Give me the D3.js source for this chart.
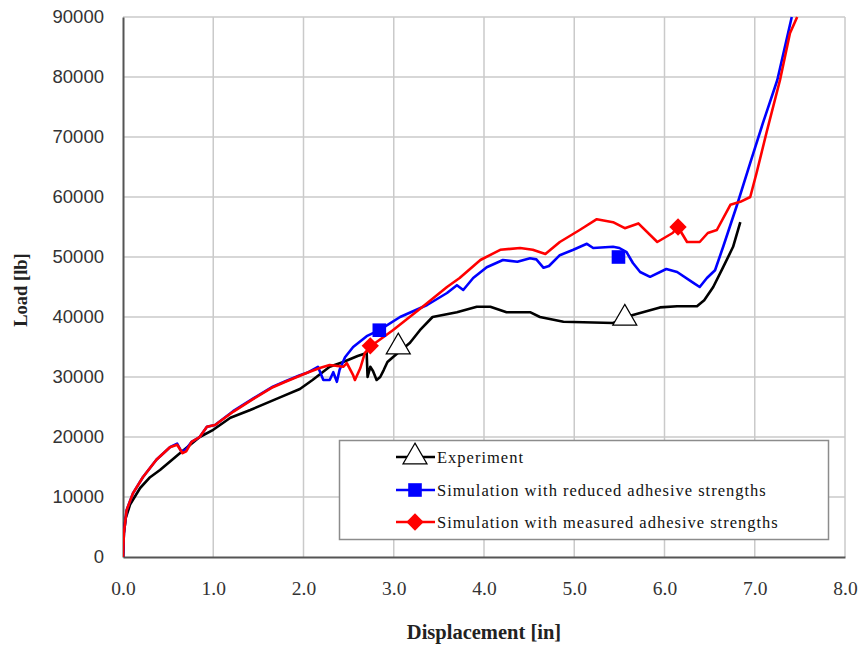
<!DOCTYPE html>
<html>
<head>
<meta charset="utf-8">
<script src="https://cdn.jsdelivr.net/npm/d3@7"></script>
<style>
  html, body { margin: 0; padding: 0; background: #fff; }
  svg { display: block; }
</style>
</head>
<body>
<svg id="chart" width="861" height="645"></svg>
<script>
// Load–displacement curves: test vs. two simulations
const expX = [0, 0.01, 0.03, 0.08, 0.19, 0.3, 0.41, 0.63, 0.85, 1.0, 1.19, 1.41, 1.74, 1.96, 2.1, 2.29, 2.44, 2.6, 2.7, 2.71, 2.74, 2.77, 2.81, 2.85, 2.89, 2.93, 2.99, 3.18, 3.29, 3.43, 3.7, 3.92, 4.07, 4.25, 4.51, 4.62, 4.88, 5.43, 5.64, 5.95, 6.14, 6.36, 6.44, 6.54, 6.65, 6.76, 6.84];
const expY = [0, 4000, 6500, 8800, 11500, 13300, 14500, 17300, 20000, 21200, 23200, 24500, 26600, 28000, 29500, 31700, 32500, 33500, 34000, 30000, 31700, 31000, 29500, 30000, 31200, 32500, 33300, 35700, 37800, 40000, 40800, 41700, 41700, 40800, 40800, 40000, 39200, 39000, 40300, 41600, 41800, 41800, 42800, 45000, 48300, 51700, 55800];

const redX = [0, 0.01, 0.04, 0.11, 0.22, 0.37, 0.52, 0.6, 0.65, 0.7, 0.76, 0.85, 0.93, 1.02, 1.22, 1.44, 1.66, 1.8, 1.96, 2.04, 2.16, 2.22, 2.29, 2.33, 2.37, 2.4, 2.46, 2.55, 2.7, 2.84, 3.07, 3.37, 3.59, 3.7, 3.77, 3.88, 4.03, 4.21, 4.37, 4.51, 4.58, 4.66, 4.72, 4.84, 4.99, 5.14, 5.21, 5.43, 5.5, 5.58, 5.65, 5.73, 5.84, 6.02, 6.14, 6.32, 6.39, 6.47, 6.56, 6.65, 6.8, 6.95, 7.09, 7.25, 7.41];
const redY = [0, 4000, 7800, 10600, 13300, 16200, 18300, 18900, 17500, 18000, 19200, 20000, 21700, 22000, 24300, 26400, 28400, 29300, 30300, 30700, 31700, 29500, 29500, 30800, 29200, 31200, 33300, 35000, 36800, 37800, 40000, 42000, 44000, 45300, 44500, 46500, 48300, 49500, 49200, 49800, 49600, 48200, 48500, 50300, 51200, 52200, 51500, 51700, 51500, 50800, 49000, 47500, 46700, 48000, 47500, 45700, 45000, 46500, 47800, 51700, 58500, 65700, 72300, 79500, 90000];

const measX = [0, 0.01, 0.04, 0.11, 0.22, 0.37, 0.52, 0.6, 0.66, 0.7, 0.76, 0.85, 0.93, 1.02, 1.22, 1.44, 1.66, 1.8, 1.96, 2.04, 2.18, 2.29, 2.44, 2.48, 2.55, 2.57, 2.63, 2.68, 2.76, 2.99, 3.32, 3.59, 3.73, 3.96, 4.18, 4.4, 4.54, 4.68, 4.84, 5.06, 5.25, 5.43, 5.56, 5.71, 5.92, 6.09, 6.15, 6.25, 6.39, 6.48, 6.58, 6.73, 6.84, 6.95, 7.02, 7.13, 7.28, 7.39, 7.47];
const measY = [0, 4000, 7800, 10600, 13300, 16200, 18300, 18700, 17300, 17600, 19200, 20000, 21700, 22000, 24200, 26300, 28300, 29200, 30200, 30700, 31500, 32000, 31700, 32300, 30300, 29500, 31500, 34000, 35300, 37800, 41700, 45000, 46500, 49500, 51200, 51500, 51200, 50500, 52500, 54500, 56300, 55800, 54800, 55600, 52500, 54000, 55000, 52500, 52500, 54000, 54500, 58700, 59200, 60000, 64000, 70700, 79500, 87300, 90000];

// sparse marker points on each curve
const expMarkX = [3.05, 5.56];
const expMarkY = [35000, 39800];
const redMarkX = [2.84, 5.49];
const redMarkY = [37800, 50000];
const measMarkX = [2.74, 6.15];
const measMarkY = [35200, 55000];

const xTicks = [0, 1, 2, 3, 4, 5, 6, 7, 8];
const yTicks = [0, 10000, 20000, 30000, 40000, 50000, 60000, 70000, 80000, 90000];

const legendLabels = [
  "Experiment",
  "Simulation with reduced adhesive strengths",
  "Simulation with measured adhesive strengths"
];

const svg = d3.select("#chart");
const L = 123, T = 17, R = 845, B = 557;

const x = d3.scaleLinear().domain([0, 8]).range([L, R]);
const y = d3.scaleLinear().domain([0, 90000]).range([B, T]);

// grid
const grid = svg.append("g");
grid.selectAll("line.v").data(xTicks.slice(1)).join("line")
  .attr("x1", d => x(d)).attr("x2", d => x(d))
  .attr("y1", T).attr("y2", B)
  .attr("stroke", "#cacaca").attr("stroke-width", 1.5);
grid.selectAll("line.h").data(yTicks.slice(1)).join("line")
  .attr("x1", L).attr("x2", R)
  .attr("y1", d => y(d)).attr("y2", d => y(d))
  .attr("stroke", "#cacaca").attr("stroke-width", 1.5);

// axes
const yAxis = svg.append("g").attr("transform", `translate(${L},0)`)
  .call(d3.axisLeft(y).tickValues(yTicks).tickSize(0).tickPadding(19).tickFormat(d3.format("d")));
yAxis.select(".domain").attr("stroke", "#555").attr("stroke-width", 2);
yAxis.selectAll("text").attr("font-family", "'Liberation Sans', Arial, sans-serif")
  .attr("font-size", 18.5).attr("fill", "#333");

const xAxis = svg.append("g").attr("transform", `translate(0,${B})`)
  .call(d3.axisBottom(x).tickValues(xTicks).tickSize(0).tickPadding(24).tickFormat(d3.format(".1f")));
xAxis.select(".domain").attr("stroke", "#555").attr("stroke-width", 2);
xAxis.selectAll("text").attr("font-family", "'Liberation Serif', 'Times New Roman', serif")
  .attr("font-size", 19.5).attr("fill", "#333");

// axis titles
svg.append("text").attr("x", 484).attr("y", 639)
  .attr("text-anchor", "middle")
  .attr("font-family", "'Liberation Serif', 'Times New Roman', serif")
  .attr("font-weight", "bold").attr("font-size", 20.5).attr("fill", "#222")
  .text("Displacement [in]");
svg.append("text").attr("transform", "translate(27,290) rotate(-90)")
  .attr("text-anchor", "middle")
  .attr("font-family", "'Liberation Serif', 'Times New Roman', serif")
  .attr("font-weight", "bold").attr("font-size", 18.5).attr("fill", "#222")
  .text("Load [lb]");

// curves
svg.append("clipPath").attr("id", "plot-clip")
  .append("rect").attr("x", L).attr("y", T - 1).attr("width", R - L).attr("height", B - T + 1);

const line = d3.line().x(d => x(d[0])).y(d => y(d[1]));
const series = [
  { xs: expX, ys: expY, color: "#000000" },
  { xs: redX, ys: redY, color: "#0000ff" },
  { xs: measX, ys: measY, color: "#ff0000" }
];
const plot = svg.append("g").attr("clip-path", "url(#plot-clip)");
plot.selectAll("path.curve").data(series).join("path")
  .attr("class", "curve")
  .attr("d", s => line(d3.zip(s.xs, s.ys)))
  .attr("fill", "none").attr("stroke", s => s.color)
  .attr("stroke-width", 2.6).attr("stroke-linejoin", "round");

// marker shapes
const triangle = d3.symbol().type(d3.symbolTriangle).size(250);
const square = d3.symbol().type(d3.symbolSquare).size(185);
// a square turned 45 degrees, as wide as it is tall
const rhombus = { draw(ctx, size) {
  const r = Math.sqrt(size / 2);
  ctx.moveTo(0, -r); ctx.lineTo(r, 0); ctx.lineTo(0, r); ctx.lineTo(-r, 0); ctx.closePath();
} };
const diamond = d3.symbol().type(rhombus).size(150);

function marks(xs, ys, gen, fill, stroke, sw) {
  svg.append("g").selectAll("path").data(d3.zip(xs, ys)).join("path")
    .attr("transform", d => `translate(${x(d[0])},${y(d[1])})`)
    .attr("d", gen())
    .attr("fill", fill).attr("stroke", stroke).attr("stroke-width", sw);
}
marks(expMarkX, expMarkY, triangle, "#fff", "#000", 1.2);
marks(redMarkX, redMarkY, square, "#0000ff", "none", 0);
marks(measMarkX, measMarkY, diamond, "#ff0000", "none", 0);

// legend
const lg = svg.append("g");
lg.append("rect").attr("x", 339.5).attr("y", 440.5).attr("width", 489).attr("height", 99)
  .attr("fill", "#fff").attr("stroke", "#8c8c8c").attr("stroke-width", 1.5);
const legendRows = [
  { y: 457, color: "#000", gen: triangle, fill: "#fff", stroke: "#000", sw: 1.2 },
  { y: 490, color: "#0000ff", gen: square, fill: "#0000ff", stroke: "none", sw: 0 },
  { y: 522, color: "#ff0000", gen: diamond, fill: "#ff0000", stroke: "none", sw: 0 }
];
legendRows.forEach((r, i) => {
  lg.append("line").attr("x1", 396).attr("x2", 435).attr("y1", r.y).attr("y2", r.y)
    .attr("stroke", r.color).attr("stroke-width", 2.6);
  lg.append("path").attr("transform", `translate(415,${r.y})`).attr("d", r.gen())
    .attr("fill", r.fill).attr("stroke", r.stroke).attr("stroke-width", r.sw);
  lg.append("text").attr("x", 437).attr("y", r.y + 5.5)
    .attr("font-family", "'Liberation Serif', 'Times New Roman', serif")
    .attr("font-size", 16.5).attr("letter-spacing", 1.0).attr("fill", "#111")
    .text(legendLabels[i]);
});
</script>
</body>
</html>
